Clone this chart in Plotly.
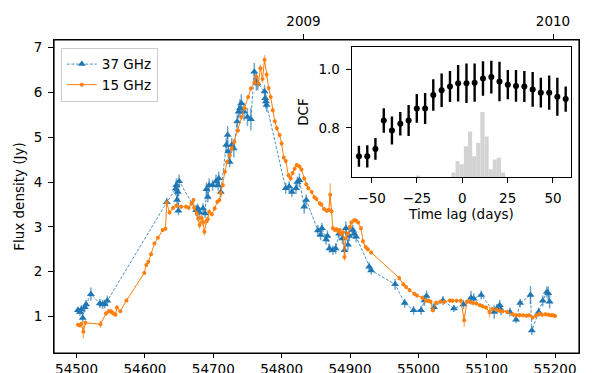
import plotly.graph_objects as go

# 37 GHz light curve (MJD, flux density in Jy, error)
mjd_37 = [54502, 54505, 54507, 54509, 54512, 54514, 54521, 54534, 54538, 54541,
          54545, 54632, 54645, 54646, 54647, 54648, 54649, 54650, 54675, 54677,
          54680, 54685, 54688, 54690, 54692, 54694, 54699, 54704, 54707, 54708,
          54711, 54719, 54721, 54722, 54724, 54727, 54730, 54735, 54737, 54739,
          54741, 54745, 54750, 54755, 54760, 54763, 54765, 54775, 54776, 54777,
          54778, 54806, 54811, 54815, 54821, 54823, 54826, 54833, 54836, 54853,
          54857, 54859, 54865, 54867, 54870, 54875, 54879, 54884, 54889, 54892,
          54894, 54897, 54899, 54904, 54906, 54909, 54928, 54931, 54966, 54980,
          54993, 55004, 55009, 55012, 55023, 55036, 55052, 55066, 55077, 55081,
          55092, 55111, 55115, 55119, 55121, 55134, 55143, 55149, 55164, 55166,
          55176, 55182, 55188, 55190, 55192]
flux_37 = [1.14, 1.10, 1.16, 0.97, 1.21, 1.27, 1.50, 1.29, 1.27, 1.28,
           1.35, 3.55, 3.85, 3.93, 3.60, 3.78, 3.36, 4.02, 3.37, 3.42,
           3.32, 3.41, 3.30, 3.84, 3.67, 3.93, 3.93, 4.02, 3.93, 4.08,
           3.78, 4.83, 5.05, 4.68, 4.45, 4.83, 4.75, 5.35, 5.57, 5.65,
           5.76, 5.57, 5.45, 5.40, 6.46, 6.24, 6.20, 6.02, 5.87, 5.80,
           5.72, 3.86, 3.90, 3.78, 3.86, 4.00, 4.04, 3.45, 3.60, 2.92,
           2.82, 2.97, 2.72, 2.80, 2.52, 2.48, 2.52, 2.85, 2.74, 2.48,
           2.97, 2.60, 2.80, 2.93, 2.85, 2.78, 2.11, 2.03, 1.72, 1.30,
           1.14, 1.14, 1.36, 1.46, 1.21, 1.36, 1.18, 1.27, 1.42, 1.40,
           1.48, 1.10, 1.18, 1.25, 1.15, 1.10, 0.93, 1.30, 1.48, 0.69,
           1.10, 1.35, 1.55, 1.52, 1.33]
err_37 = [0.08, 0.08, 0.10, 0.10, 0.10, 0.10, 0.15, 0.10, 0.10, 0.10,
          0.12, 0.10, 0.15, 0.15, 0.12, 0.12, 0.10, 0.15, 0.12, 0.10,
          0.12, 0.12, 0.10, 0.15, 0.12, 0.15, 0.12, 0.15, 0.12, 0.15,
          0.12, 0.15, 0.20, 0.15, 0.12, 0.15, 0.20, 0.15, 0.15, 0.20,
          0.20, 0.20, 0.20, 0.25, 0.20, 0.20, 0.15, 0.15, 0.15, 0.15,
          0.15, 0.12, 0.12, 0.12, 0.12, 0.12, 0.15, 0.15, 0.12, 0.12,
          0.12, 0.12, 0.12, 0.12, 0.10, 0.10, 0.12, 0.12, 0.12, 0.10,
          0.15, 0.12, 0.12, 0.12, 0.12, 0.12, 0.10, 0.10, 0.12, 0.10,
          0.10, 0.10, 0.12, 0.12, 0.10, 0.10, 0.08, 0.10, 0.15, 0.12,
          0.10, 0.15, 0.10, 0.12, 0.12, 0.10, 0.08, 0.10, 0.20, 0.10,
          0.10, 0.12, 0.12, 0.15, 0.15]

# 15 GHz light curve
mjd_15 = [54502, 54505, 54507, 54510, 54513, 54535, 54543, 54547, 54550, 54552,
          54554, 54557, 54559, 54564, 54573, 54599, 54602, 54605, 54609, 54614,
          54619, 54626, 54630, 54632, 54636, 54641, 54646, 54653, 54660, 54664,
          54668, 54671, 54672, 54676, 54678, 54680, 54683, 54685, 54687, 54690,
          54692, 54694, 54698, 54702, 54706, 54709, 54711, 54714, 54717, 54720,
          54724, 54727, 54731, 54736, 54741, 54746, 54751, 54755, 54760, 54763,
          54766, 54769, 54772, 54775, 54778, 54781, 54784, 54787, 54790, 54793,
          54797, 54800, 54803, 54806, 54810, 54813, 54816, 54819, 54822, 54826,
          54829, 54833, 54836, 54839, 54844, 54848, 54851, 54856, 54858, 54862,
          54866, 54869, 54871, 54873, 54875, 54878, 54880, 54883, 54885, 54887,
          54890, 54892, 54894, 54897, 54900, 54902, 54906, 54909, 54912, 54916,
          54919, 54923, 54926, 54931, 54972, 54978, 54982, 54987, 54994, 54998,
          55006, 55011, 55015, 55018, 55021, 55026, 55032, 55038, 55046, 55050,
          55056, 55062, 55067, 55071, 55075, 55080, 55085, 55090, 55094, 55099,
          55104, 55108, 55114, 55119, 55123, 55130, 55138, 55143, 55148, 55153,
          55158, 55162, 55167, 55172, 55177, 55181, 55186, 55190, 55194, 55197,
          55200]
flux_15 = [0.82, 0.80, 0.84, 0.66, 0.86, 0.83, 1.07, 1.12, 1.12, 1.09,
           1.07, 1.04, 1.20, 1.12, 1.36, 1.97, 2.15, 2.22, 2.39, 2.63,
           2.76, 2.93, 2.96, 3.54, 3.32, 3.42, 3.47, 3.45, 3.45, 3.43,
           3.52, 3.60, 3.43, 3.30, 3.19, 3.04, 3.20, 3.10, 2.89, 3.13,
           3.17, 3.34, 3.28, 3.41, 3.56, 3.60, 3.75, 3.93, 4.23, 4.45,
           4.60, 4.75, 4.90, 5.15, 5.45, 5.65, 5.90, 6.09, 6.22, 6.35,
           6.20, 6.54, 6.30, 6.73, 6.40, 6.10, 5.90, 5.60, 5.36, 5.20,
           5.05, 4.86, 4.55, 4.47, 4.15, 4.08, 4.20, 4.30, 4.38, 4.35,
           4.28, 4.08, 3.95, 3.86, 3.78, 3.66, 3.62, 3.52, 3.50, 3.40,
           3.36, 3.38, 3.72, 3.35, 2.97, 2.93, 2.95, 2.90, 2.93, 2.85,
           2.88, 2.33, 2.75, 2.85, 3.00, 3.10, 3.15, 3.14, 3.10, 2.97,
           2.68, 2.55, 2.50, 2.43, 1.86, 1.72, 1.66, 1.59, 1.51, 1.47,
           1.42, 1.36, 1.35, 1.33, 1.14, 1.31, 1.33, 1.33, 1.36, 1.35,
           1.35, 1.35, 0.92, 1.33, 1.33, 1.30, 1.29, 1.25, 1.23, 1.20,
           1.10, 1.17, 1.15, 1.13, 1.12, 1.10, 1.05, 1.03, 1.03, 1.03,
           1.02, 1.03, 0.98, 1.02, 1.06, 1.04, 1.05, 1.04, 1.03, 1.03,
           1.01]
err_15 = [0.04, 0.04, 0.04, 0.15, 0.05, 0.08, 0.05, 0.05, 0.05, 0.05,
          0.05, 0.05, 0.05, 0.04, 0.04, 0.04, 0.04, 0.04, 0.04, 0.04,
          0.04, 0.04, 0.04, 0.05, 0.05, 0.05, 0.05, 0.05, 0.05, 0.05,
          0.05, 0.05, 0.05, 0.08, 0.08, 0.08, 0.08, 0.08, 0.08, 0.08,
          0.08, 0.05, 0.05, 0.05, 0.05, 0.05, 0.05, 0.05, 0.05, 0.05,
          0.05, 0.05, 0.05, 0.05, 0.05, 0.05, 0.05, 0.05, 0.05, 0.05,
          0.08, 0.08, 0.08, 0.10, 0.08, 0.05, 0.05, 0.05, 0.05, 0.05,
          0.05, 0.05, 0.05, 0.05, 0.05, 0.05, 0.05, 0.05, 0.05, 0.05,
          0.05, 0.05, 0.05, 0.05, 0.05, 0.05, 0.05, 0.05, 0.05, 0.05,
          0.05, 0.05, 0.25, 0.08, 0.05, 0.05, 0.05, 0.05, 0.05, 0.05,
          0.05, 0.08, 0.05, 0.05, 0.05, 0.05, 0.05, 0.05, 0.05, 0.05,
          0.05, 0.05, 0.05, 0.05, 0.05, 0.05, 0.05, 0.05, 0.05, 0.05,
          0.05, 0.05, 0.05, 0.05, 0.05, 0.05, 0.05, 0.05, 0.05, 0.05,
          0.05, 0.05, 0.15, 0.05, 0.05, 0.05, 0.05, 0.05, 0.05, 0.05,
          0.12, 0.05, 0.05, 0.05, 0.05, 0.05, 0.05, 0.05, 0.05, 0.05,
          0.05, 0.05, 0.05, 0.05, 0.05, 0.05, 0.05, 0.05, 0.05, 0.05,
          0.05]

# discrete correlation function (inset)
lag = [-57.0, -52.4, -47.9, -43.3, -38.8, -34.2, -29.6, -25.1, -20.5, -16.0,
       -11.4, -6.8, -2.3, 2.3, 6.8, 11.4, 16.0, 20.5, 25.1, 29.6,
       34.2, 38.8, 43.3, 47.9, 52.4, 57.0]
dcf = [0.703, 0.703, 0.728, 0.825, 0.791, 0.814, 0.825, 0.866, 0.866, 0.912,
       0.928, 0.941, 0.952, 0.952, 0.954, 0.968, 0.973, 0.958, 0.947, 0.943,
       0.941, 0.931, 0.920, 0.920, 0.906, 0.898]
dcf_err = [0.036, 0.038, 0.037, 0.042, 0.048, 0.040, 0.053, 0.049, 0.053, 0.054,
           0.057, 0.053, 0.062, 0.067, 0.065, 0.059, 0.056, 0.067, 0.050, 0.054,
           0.053, 0.059, 0.051, 0.058, 0.065, 0.043]

# distribution of peak lags (grey histogram)
hist_lag = [-24.4, -4.9, -2.6, -0.3, 2.0, 4.3, 6.5, 8.8, 11.1, 13.4, 15.7, 17.9, 20.2, 22.5]
hist_count = [1, 3, 10, 8, 19, 28, 13, 21, 40, 25, 5, 11, 12, 3]

year_mjd = [54832, 55197]
year_text = ["2009", "2010"]

FONT = "DejaVu Sans"
BLUE = "#1f77b4"
ORANGE = "#ff7f0e"

fig = go.Figure()

fig.add_trace(go.Scatter(
    x=mjd_37, y=flux_37, name="37 GHz", mode="lines+markers",
    line=dict(color=BLUE, width=0.8, dash="3px,1.6px"),
    marker=dict(symbol="triangle-up", size=7, color=BLUE),
    error_y=dict(type="data", array=err_37, color="rgba(31,119,180,0.65)",
                 thickness=1.5, width=0),
))
fig.add_trace(go.Scatter(
    x=mjd_15, y=flux_15, name="15 GHz", mode="lines+markers",
    line=dict(color=ORANGE, width=1),
    marker=dict(symbol="circle", size=4, color=ORANGE),
    error_y=dict(type="data", array=err_15, color="rgba(255,127,14,0.7)",
                 thickness=1.2, width=0),
))

# invisible trace so the top (year) axis gets drawn
fig.add_trace(go.Scatter(x=year_mjd, y=[1, 1], xaxis="x2", mode="markers",
                         marker=dict(opacity=0), showlegend=False, hoverinfo="skip"))

# inset
fig.add_trace(go.Bar(x=hist_lag, y=hist_count, width=2.28, xaxis="x3", yaxis="y4",
                     marker=dict(color="#d3d3d3", line=dict(width=0)),
                     showlegend=False, hoverinfo="skip"))
fig.add_trace(go.Scatter(
    x=lag, y=dcf, xaxis="x3", yaxis="y3", mode="markers", showlegend=False,
    marker=dict(color="black", size=6),
    error_y=dict(type="data", array=dcf_err, color="black", thickness=2.4, width=0),
))

axis_common = dict(showline=True, linecolor="black", linewidth=1, ticks="outside",
                   ticklen=5, tickwidth=1, tickcolor="black", showgrid=False,
                   zeroline=False, automargin=False, ticklabelstandoff=3,
                   tickfont=dict(family=FONT, size=13.5, color="black"))

fig.update_layout(
    width=598, height=373,
    template="none",
    paper_bgcolor="white", plot_bgcolor="white",
    margin=dict(l=54, r=19, t=40, b=20),
    font=dict(family=FONT, size=13.5, color="black"),
    xaxis=dict(**dict(axis_common, ticklen=4, ticklabelstandoff=0),
               range=[54467, 55235], mirror=True,
               tickvals=[54500, 54600, 54700, 54800, 54900, 55000, 55100, 55200],
               tickformat="d"),
    xaxis2=dict(**dict(axis_common, showline=False), overlaying="x", side="top",
                anchor="y", range=[54467, 55235], tickvals=year_mjd, ticktext=year_text),
    yaxis=dict(**axis_common, range=[0.187, 7.17], mirror=True,
               tickvals=[1, 2, 3, 4, 5, 6, 7],
               title=dict(text="Flux density (Jy)", standoff=5,
                          font=dict(family=FONT, size=13.5))),
    xaxis3=dict(**axis_common, domain=[0.567, 0.985], anchor="y3", range=[-61, 60],
                mirror=True, tickvals=[-50, -25, 0, 25, 50],
                title=dict(text="Time lag (days)", standoff=2,
                           font=dict(family=FONT, size=13.5))),
    yaxis3=dict(**axis_common, domain=[0.561, 0.979], anchor="x3", range=[0.631, 1.077],
                mirror=True, tickvals=[0.8, 1.0], tickformat=".1f",
                title=dict(text="DCF", standoff=6, font=dict(family=FONT, size=13.5))),
    yaxis4=dict(overlaying="y3", anchor="x3", range=[0, 80], visible=False),
    legend=dict(x=0.013, y=0.975, xanchor="left", yanchor="top",
                bordercolor="#cccccc", borderwidth=1, bgcolor="white",
                font=dict(family=FONT, size=13.5), tracegroupgap=0),
    barmode="overlay",
    showlegend=True,
)

# frame around the main panel
fig.add_shape(type="rect", xref="paper", yref="paper", x0=0, x1=1, y0=0, y1=1,
              line=dict(color="black", width=1.2), layer="above")

fig.write_html("out.html", config={"displayModeBar": False},
               post_script="document.body.style.margin='0';")
